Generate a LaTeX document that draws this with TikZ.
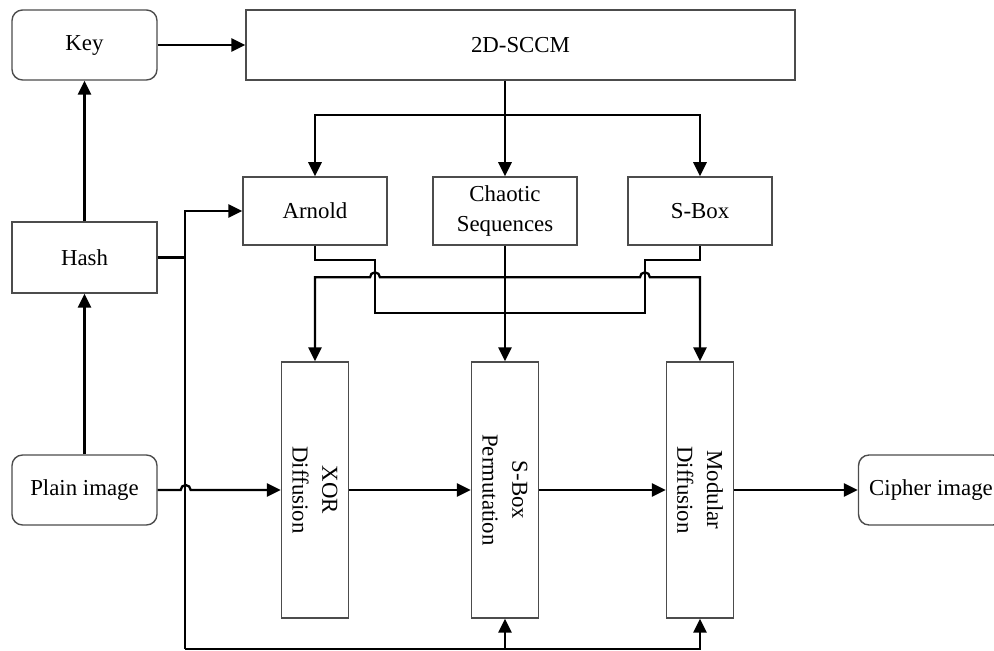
\documentclass[tikz,border=0pt]{standalone}
\usepackage{fontspec}
\setmainfont{Liberation Serif}
\usetikzlibrary{arrows.meta}
\tikzset{every node/.style={draw=black!70,line width=0.8pt,inner sep=0pt,align=center,
    font=\fontsize{13}{17}\selectfont},
  >={Triangle[length=8pt,width=7.5pt]},
  blk/.style={minimum width=2.88cm,minimum height=1.36cm},
  term/.style={rounded corners=6pt,minimum width=2.9cm,minimum height=1.4cm},
  tall/.style={minimum width=1.34cm,minimum height=5.12cm},
  txt/.style={draw=none,rotate=-90},
  wire/.style={line width=1.3pt},
  conn/.style={wire,->}}

\begin{document}
\begin{tikzpicture}[x=0.02cm,y=-0.02cm]
      \path[use as bounding box,clip] (0,0) rectangle (994,651);
      \node[term] (key) at (84.5,45) {Key};
      \node[blk,minimum width=10.98cm,minimum height=1.4cm] (sccm) at (520.5,45) {2D-SCCM};
      \node[blk,minimum width=2.9cm,minimum height=1.42cm] (hash) at (84.5,257.5) {Hash};
      \node[term] (plain) at (84.5,490) {Plain image};
      \node[blk] (arnold) at (315,211) {Arnold};
      \node[blk] (chaos) at (505,211) {Chaotic\\Sequences};
      \node[blk] (sbox) at (700,211) {S-Box};
      \node[tall] (xor) at (315,490) {};
      \node[tall] (perm) at (505,490) {};
      \node[tall] (modd) at (700,490) {};
      \node[txt] (xortxt) at (xor) {XOR\\Diffusion};
      \node[txt] (permtxt) at (perm) {S-Box\\Permutation};
      \node[txt] (moddtxt) at (modd) {Modular\\Diffusion};
      \node[term] (cipher) at (931,490) {Cipher image};
      \coordinate (split) at (505,115);
      \coordinate (bustop) at (185,211);
      \coordinate (busbot) at (185,649);

\foreach \a/\b in {key.east/sccm.west,hash.north/key.south,plain.north/hash.south,
    chaos.south/perm.north,xor.east/perm.west,perm.east/modd.west,modd.east/cipher.west}
  \draw[conn] (\a) -- (\b);

      % 2D-SCCM feeds the three generators
      \draw[conn] (chaos.north |- sccm.south) -- (chaos.north);
      \draw[conn] (split) -| (arnold.north);
      \draw[conn] (split) -| (sbox.north);

      % hash bus
      \draw[wire] (hash.east) -- (hash.east -| busbot);
      \draw[conn] (busbot) -- (bustop) -- (arnold.west);
      \draw[conn] (busbot) -| (perm.south);
      \draw[conn] (busbot) -| (modd.south);
      \draw[conn] (plain.east) -- ++(23,0) arc[start angle=180,end angle=0,radius=2.83pt] -- (xor.west);

      % crossing lines under Arnold and S-Box
      \draw[wire] (arnold.south) -- ++(0,14) -- ++(60,0) -- ++(0,53) -- ++(270,0) -- ++(0,-53) -| (sbox.south);
      \draw[wire,<->] (xor.north) -- ++(0,-84) -- ++(55,0) arc[start angle=180,end angle=0,radius=2.83pt]
        -- ++(260,0) arc[start angle=180,end angle=0,radius=2.83pt] -| (modd.north);
\end{tikzpicture}
\end{document}
